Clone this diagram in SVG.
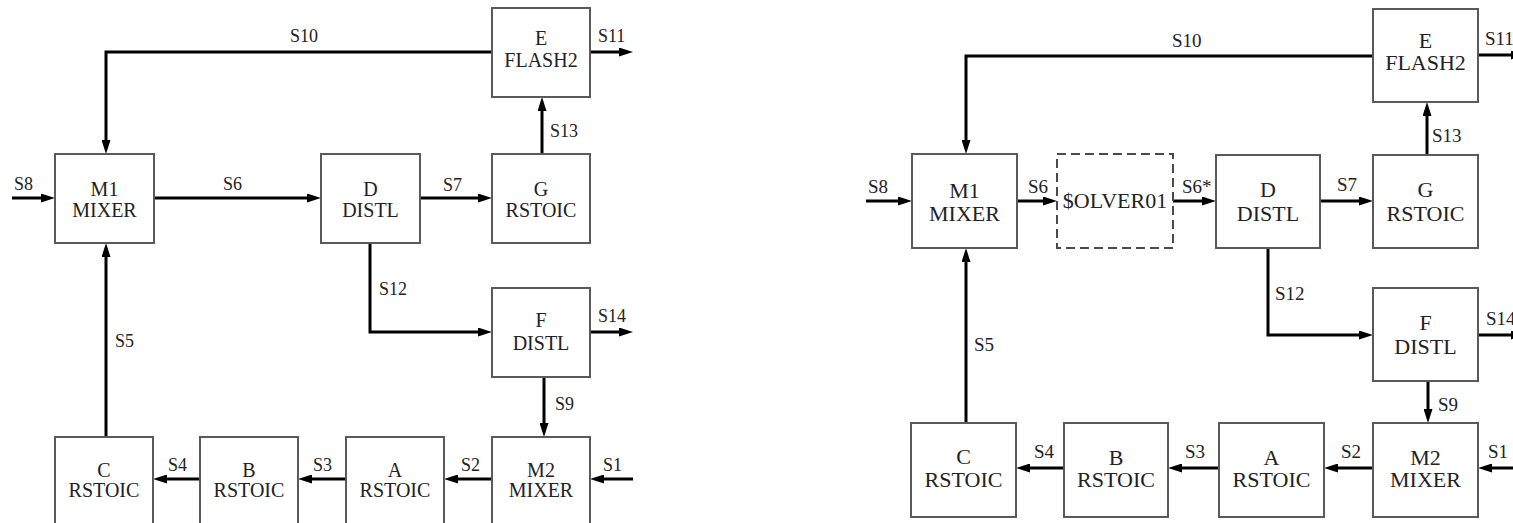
<svg xmlns="http://www.w3.org/2000/svg" width="1513" height="523" viewBox="0 0 1513 523">
<defs>
<marker id="ah" markerUnits="userSpaceOnUse" markerWidth="14" markerHeight="9" refX="4" refY="4.5" orient="auto">
<path d="M0,0 L14,4.5 L0,9 z" fill="#000"/>
</marker>
</defs>
<style>
.box{fill:#fff;stroke:#5a5a5a;stroke-width:2}
.dash{fill:#fff;stroke:#4a4a4a;stroke-width:2;stroke-dasharray:9 5}
.c{fill:none;stroke:#000;stroke-width:3;marker-end:url(#ah)}
.cn{fill:none;stroke:#000;stroke-width:3}
text{font-family:"Liberation Serif","Times New Roman",serif;fill:#222}
.nl{font-size:20px;text-anchor:middle}
.nr{font-size:22px;text-anchor:middle}
.ll{font-size:18px}
.lr{font-size:19px}
</style>
<rect width="1513" height="523" fill="#fff"/>

<g id="connectors">
<path class="c" d="M12,198 H45"/>
<path class="c" d="M154,198 H311"/>
<path class="c" d="M420,198 H482"/>
<path class="c" d="M542,154 V107"/>
<path class="c" d="M492,52 H106 V144"/>
<path class="c" d="M590,52 H623"/>
<path class="c" d="M370,243 V332 H482"/>
<path class="c" d="M590,332 H623"/>
<path class="c" d="M544,377 V427"/>
<path class="c" d="M633,479 H600"/>
<path class="c" d="M492,479 H454"/>
<path class="c" d="M346,479 H308"/>
<path class="c" d="M200,479 H163"/>
<path class="c" d="M106,437 V253"/>

<path class="c" d="M866,201 H902"/>
<path class="c" d="M1017,201 H1047"/>
<path class="c" d="M1173,201 H1206"/>
<path class="c" d="M1320,201 H1363"/>
<path class="c" d="M1427,155 V112"/>
<path class="c" d="M1373,56 H966 V144"/>
<path class="c" d="M1478,55 H1515"/>
<path class="c" d="M1268,248 V335 H1363"/>
<path class="c" d="M1478,335 H1515"/>
<path class="c" d="M1428,381 V413"/>
<path class="c" d="M1525,468 H1488"/>
<path class="c" d="M1373,468 H1334"/>
<path class="c" d="M1219,468 H1178"/>
<path class="c" d="M1064,468 H1026"/>
<path class="c" d="M966,423 V258"/>

<g id="stream-labels">
<text class="ll" x="14" y="190">S8</text>
<text class="ll" x="223" y="190">S6</text>
<text class="ll" x="443" y="191">S7</text>
<text class="ll" x="290" y="42">S10</text>
<text class="ll" x="598" y="42">S11</text>
<text class="ll" x="550" y="137">S13</text>
<text class="ll" x="379" y="295">S12</text>
<text class="ll" x="598" y="322">S14</text>
<text class="ll" x="555" y="410">S9</text>
<text class="ll" x="603" y="471">S1</text>
<text class="ll" x="461" y="471">S2</text>
<text class="ll" x="313" y="471">S3</text>
<text class="ll" x="168" y="471">S4</text>
<text class="ll" x="115" y="347">S5</text>

<text class="lr" x="868" y="193">S8</text>
<text class="lr" x="1028" y="193">S6</text>
<text class="lr" x="1182" y="193">S6*</text>
<text class="lr" x="1337" y="191">S7</text>
<text class="lr" x="1172" y="47">S10</text>
<text class="lr" x="1485" y="45">S11</text>
<text class="lr" x="1432" y="142">S13</text>
<text class="lr" x="1275" y="300">S12</text>
<text class="lr" x="1486" y="325">S14</text>
<text class="lr" x="1438" y="411">S9</text>
<text class="lr" x="1488" y="458">S1</text>
<text class="lr" x="1341" y="458">S2</text>
<text class="lr" x="1185" y="458">S3</text>
<text class="lr" x="1034" y="458">S4</text>
<text class="lr" x="974" y="351">S5</text>
</g>
</g>

<g id="L-M1"><rect class="box" x="55" y="154" width="99" height="89"/><text class="nl" x="104.5" y="196">M1</text><text class="nl" x="104.5" y="217">MIXER</text></g>
<g id="L-D"><rect class="box" x="321" y="154" width="99" height="89"/><text class="nl" x="370.5" y="196">D</text><text class="nl" x="370.5" y="217">DISTL</text></g>
<g id="L-G"><rect class="box" x="492" y="154" width="98" height="89"/><text class="nl" x="541" y="196">G</text><text class="nl" x="541" y="217">RSTOIC</text></g>
<g id="L-E"><rect class="box" x="492" y="8" width="98" height="89"/><text class="nl" x="541" y="45">E</text><text class="nl" x="541" y="67">FLASH2</text></g>
<g id="L-F"><rect class="box" x="492" y="288" width="98" height="89"/><text class="nl" x="541" y="327">F</text><text class="nl" x="541" y="350">DISTL</text></g>
<g id="L-M2"><rect class="box" x="492" y="437" width="98" height="89"/><text class="nl" x="541" y="477">M2</text><text class="nl" x="541" y="497">MIXER</text></g>
<g id="L-A"><rect class="box" x="346" y="437" width="98" height="89"/><text class="nl" x="395" y="477">A</text><text class="nl" x="395" y="497">RSTOIC</text></g>
<g id="L-B"><rect class="box" x="200" y="437" width="98" height="89"/><text class="nl" x="249" y="477">B</text><text class="nl" x="249" y="497">RSTOIC</text></g>
<g id="L-C"><rect class="box" x="55" y="437" width="98" height="89"/><text class="nl" x="104" y="477">C</text><text class="nl" x="104" y="497">RSTOIC</text></g>

<g id="R-M1"><rect class="box" x="912" y="154" width="105" height="94"/><text class="nr" x="964.5" y="198">M1</text><text class="nr" x="964.5" y="221">MIXER</text></g>
<g id="R-SOLVER"><rect class="dash" x="1057" y="154" width="116" height="94"/><text class="nr" x="1115" y="208">$OLVER01</text></g>
<g id="R-D"><rect class="box" x="1216" y="155" width="104" height="93"/><text class="nr" x="1268" y="197">D</text><text class="nr" x="1268" y="221">DISTL</text></g>
<g id="R-G"><rect class="box" x="1373" y="155" width="105" height="93"/><text class="nr" x="1425.5" y="197">G</text><text class="nr" x="1425.5" y="221">RSTOIC</text></g>
<g id="R-E"><rect class="box" x="1373" y="9" width="105" height="93"/><text class="nr" x="1425.5" y="48">E</text><text class="nr" x="1425.5" y="70">FLASH2</text></g>
<g id="R-F"><rect class="box" x="1373" y="288" width="105" height="93"/><text class="nr" x="1425.5" y="330">F</text><text class="nr" x="1425.5" y="354">DISTL</text></g>
<g id="R-M2"><rect class="box" x="1373" y="423" width="105" height="94"/><text class="nr" x="1425.5" y="465">M2</text><text class="nr" x="1425.5" y="487">MIXER</text></g>
<g id="R-A"><rect class="box" x="1219" y="423" width="105" height="94"/><text class="nr" x="1271.5" y="465">A</text><text class="nr" x="1271.5" y="487">RSTOIC</text></g>
<g id="R-B"><rect class="box" x="1064" y="423" width="104" height="94"/><text class="nr" x="1116" y="465">B</text><text class="nr" x="1116" y="487">RSTOIC</text></g>
<g id="R-C"><rect class="box" x="911" y="423" width="105" height="94"/><text class="nr" x="963.5" y="464">C</text><text class="nr" x="963.5" y="487">RSTOIC</text></g>
</svg>
